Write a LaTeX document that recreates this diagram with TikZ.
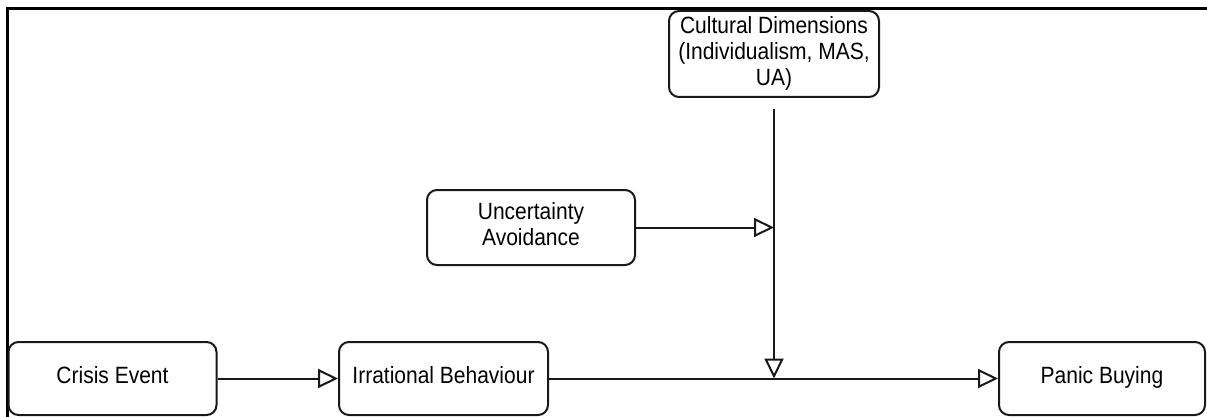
\documentclass[tikz,border=0pt]{standalone}
\usepackage{fontspec}
\setmainfont{Liberation Sans}
\usetikzlibrary{arrows.meta,calc}
\newcommand{\lbl}[1]{\scalebox{1}[1.12]{\begin{tabular}{@{}c@{}}#1\end{tabular}}}
\begin{document}
\begin{tikzpicture}[x=1pt,y=-1pt,
  box/.style={draw=black!90, line width=2pt, rounded corners=10pt, inner sep=0pt,
    font=\fontsize{21}{23.2}\selectfont, text=black},
  arr/.style={draw=black!90, line width=2pt, -{Triangle[open,length=20pt,width=19pt]}}]
\useasboundingbox (0,0) rectangle (1207,417);
\fill[white] (0,0) rectangle (1207,417);
\draw[line width=3pt] (7.5,417) -- (7.5,8.7) -- (1207,8.7);

\node[box, minimum width=208pt, minimum height=73pt] (crisis) at (112.5,378.5) {\lbl{Crisis Event}};
\node[box, minimum width=209pt, minimum height=73pt] (irr) at (443.5,378.5) {\lbl{Irrational Behaviour}};
\node[box, minimum width=206pt, minimum height=73pt] (panic) at (1102,378.5) {\lbl{Panic Buying}};
\node[box, minimum width=208pt, minimum height=75pt] (unc) at (531,227.5) {\lbl{Uncertainty\\Avoidance}};
\node[box, minimum width=210pt, minimum height=86pt] (cult) at (774,54) {\lbl{Cultural Dimensions\\(Individualism, MAS,\\UA)}};

\coordinate (vtop) at ($(cult.south)+(0,11)$);
\coordinate (join) at (cult.south |- irr.east);
\coordinate (ujoin) at (cult.south |- unc.east);

\draw[arr] (crisis.east) -- (irr.west);
\draw[arr] (irr.east) -- (panic.west);
\draw[arr] (unc.east) -- (ujoin);
\draw[arr] (vtop) -- (join);
\end{tikzpicture}
\end{document}
